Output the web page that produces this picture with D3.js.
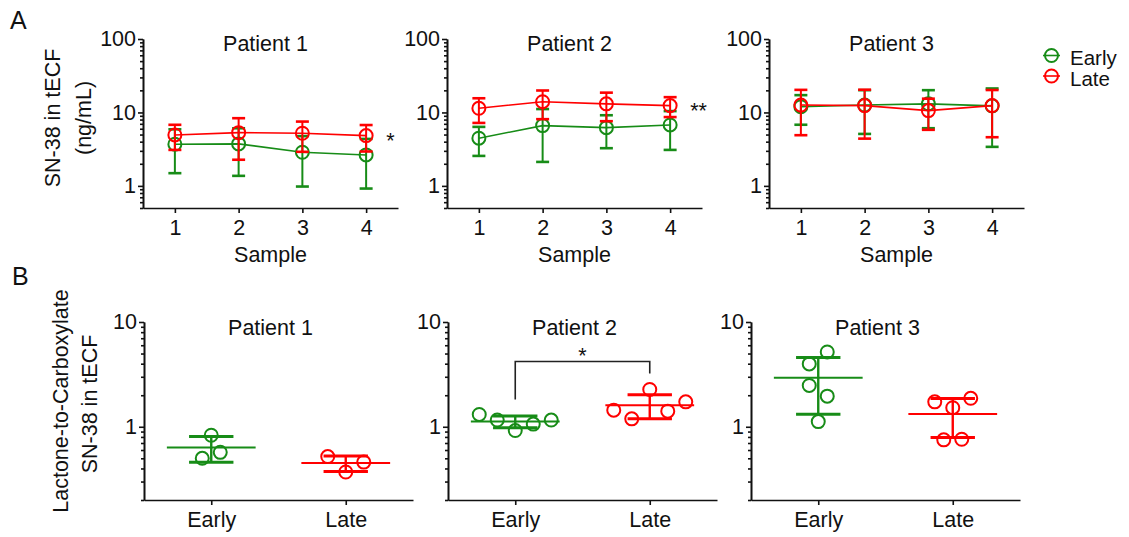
<!DOCTYPE html>
<html lang="en">
  <head>
    <meta charset="UTF-8" />
    <title>SN-38 in tECF</title>
    <script src="https://cdn.jsdelivr.net/npm/d3@7"></script>
    <style>
      body { margin: 0; background: #fff; }
      svg { display: block; }
    </style>
  </head>
  <body>
    <svg></svg>
    <script>
      // panel A: mean +/- SD per sample, log axis
      const samples = [1, 2, 3, 4];
      const patients = ["Patient 1", "Patient 2", "Patient 3"];
      const earlyMean = [[3.69, 3.73, 2.87, 2.64], [4.46, 6.62, 6.21, 6.76], [12.0, 12.6, 13.1, 12.3]];
      const earlySD = [[2.2, 2.36, 1.89, 1.72], [1.9, 4.5, 2.95, 3.67], [5.2, 7.5, 7.0, 8.9]];
      const lateMean = [[4.94, 5.31, 5.21, 4.84], [11.4, 14.0, 13.1, 12.4], [12.6, 12.4, 10.6, 12.4]];
      const lateSD = [[1.85, 3.04, 2.3, 1.9], [4.2, 5.9, 5.5, 3.75], [7.7, 8.0, 4.8, 7.8]];
      const starsA = ["*", "**", ""];

      // panel B: individual ratios
      const groups = ["Early", "Late"];
      const ratioEarly = [[0.50, 0.83, 0.57], [1.31, 1.16, 0.92, 1.06, 1.16], [3.98, 2.48, 1.12, 1.96, 5.18]];
      const ratioLate = [[0.52, 0.37, 0.46], [1.44, 1.19, 2.27, 1.41, 1.73], [1.73, 0.75, 1.52, 0.76, 1.87]];
      const starsB = ["", "*", ""];

      const ff = "'Liberation Sans', Arial, sans-serif";
      const fs = 21.5;
      const green = "#178c17";
      const red = "#ff0000";
      const r = 6.5;

      const svg = d3.select("svg").attr("width", 1129).attr("height", 537)
        .attr("font-family", ff).attr("font-size", fs).attr("fill", "#111");

      function styleAxis(s) {
        s.attr("font-family", ff).attr("font-size", fs);
        s.selectAll("path, line").attr("stroke", "#111").attr("stroke-width", 1.6);
        s.selectAll("text").attr("fill", "#111");
      }

      function logAxis(g, y, x0) {
        const all = y.ticks();
        const major = all.filter(v => Math.abs(Math.log10(v) - Math.round(Math.log10(v))) < 1e-9);
        const minor = all.filter(v => !major.includes(v));
        g.append("g").attr("transform", `translate(${x0},0)`)
          .call(d3.axisLeft(y).tickValues(minor).tickSize(3).tickFormat("").tickSizeOuter(0))
          .call(styleAxis);
        g.append("g").attr("transform", `translate(${x0},0)`)
          .call(d3.axisLeft(y).tickValues(major).tickSize(5).tickPadding(2).tickFormat(d3.format("d")).tickSizeOuter(0))
          .call(styleAxis);
      }

      // ---------- A ----------
      const aLeft = [143, 447, 769], aW = 255, aTop = 39, aBot = 208;
      patients.forEach((p, i) => {
        const g = svg.append("g");
        const x = d3.scaleLinear().domain([0.5, 4.5]).range([aLeft[i], aLeft[i] + aW]);
        const y = d3.scaleLog().domain([0.5, 100]).range([aBot, aTop]);
        logAxis(g, y, aLeft[i]);
        g.append("g").attr("transform", `translate(0,${aBot})`)
          .call(d3.axisBottom(x).tickValues(samples).tickSize(5).tickPadding(7).tickSizeOuter(0).tickFormat(d3.format("d")))
          .call(styleAxis);
        g.append("text").attr("x", (aLeft[i] + aLeft[i] + aW) / 2 - 5).attr("y", 51)
          .attr("text-anchor", "middle").text(p);
        g.append("text").attr("x", (aLeft[i] + aLeft[i] + aW) / 2).attr("y", 262)
          .attr("text-anchor", "middle").text("Sample");

        const series = [
          { mean: earlyMean[i], sd: earlySD[i], color: green },
          { mean: lateMean[i], sd: lateSD[i], color: red }
        ];
        series.forEach(s => {
          const sg = g.append("g").attr("stroke", s.color).attr("fill", "none");
          s.mean.forEach((m, j) => {
            const cx = x(samples[j]);
            const hi = y(m + s.sd[j]), lo = y(m - s.sd[j]);
            sg.append("line").attr("x1", cx).attr("x2", cx).attr("y1", hi).attr("y2", lo).attr("stroke-width", 2);
            [hi, lo].forEach(yy => sg.append("line").attr("x1", cx - 6.5).attr("x2", cx + 6.5)
              .attr("y1", yy).attr("y2", yy).attr("stroke-width", 2.6));
          });
          sg.append("path")
            .attr("d", d3.line().x((d, j) => x(samples[j])).y(d => y(d))(s.mean))
            .attr("stroke-width", 1.6);
          sg.selectAll("circle").data(s.mean).join("circle")
            .attr("cx", (d, j) => x(samples[j])).attr("cy", d => y(d)).attr("r", r)
            .attr("stroke-width", 2);
        });
        if (starsA[i]) {
          g.append("text").attr("x", x(4) + 20).attr("y", y(lateMean[i][3]) + 12).text(starsA[i]);
        }
      });

      svg.append("text").attr("transform", "translate(60,118) rotate(-90)")
        .attr("text-anchor", "middle").text("SN-38 in tECF");
      svg.append("text").attr("transform", "translate(91,118) rotate(-90)")
        .attr("text-anchor", "middle").text("(ng/mL)");

      // legend
      const legend = svg.append("g");
      [["Early", green, 55.5, 64.5], ["Late", red, 76, 85.5]].forEach(([t, c, ly, ty]) => {
        legend.append("line").attr("x1", 1043).attr("x2", 1060).attr("y1", ly).attr("y2", ly)
          .attr("stroke", c).attr("stroke-width", 1.6);
        legend.append("circle").attr("cx", 1051.5).attr("cy", ly).attr("r", r)
          .attr("fill", "none").attr("stroke", c).attr("stroke-width", 2);
        legend.append("text").attr("x", 1070).attr("y", ty).attr("font-size", 20.5).text(t);
      });

      // ---------- B ----------
      const bLeft = [144, 448, 751], bW = 269, bTop = 322, bBot = 500;
      const dotGap = 18;

      function swarm(vals, y) {
        const idx = d3.range(vals.length).sort((a, b) => vals[b] - vals[a]);
        const gs = [];
        let cur = [idx[0]];
        for (let k = 1; k < idx.length; k++) {
          if (y(vals[idx[k]]) - y(vals[idx[k - 1]]) < 2 * r) cur.push(idx[k]);
          else { gs.push(cur); cur = [idx[k]]; }
        }
        gs.push(cur);
        const off = vals.map(() => 0);
        gs.forEach(gr => {
          gr.sort((a, b) => a - b);
          gr.forEach((p, k) => { off[p] = (k - (gr.length - 1) / 2) * dotGap; });
        });
        return off;
      }

      patients.forEach((p, i) => {
        const g = svg.append("g");
        const x = d3.scalePoint().domain(groups).range([bLeft[i], bLeft[i] + bW]).padding(0.5);
        const y = d3.scaleLog().domain([0.2, 10]).range([bBot, bTop]);
        logAxis(g, y, bLeft[i]);
        g.append("g").attr("transform", `translate(0,${bBot})`)
          .call(d3.axisBottom(x).tickSize(5).tickPadding(7).tickSizeOuter(0))
          .call(styleAxis);
        g.append("text").attr("x", (bLeft[i] + bLeft[i] + bW) / 2 - 8).attr("y", 335)
          .attr("text-anchor", "middle").text(p);

        const step = x.step();
        [[ratioEarly[i], green, "Early"], [ratioLate[i], red, "Late"]].forEach(([vals, c, grp]) => {
          const cx = x(grp);
          const m = d3.mean(vals), sd = d3.deviation(vals);
          const sg = g.append("g").attr("stroke", c).attr("fill", "none");
          sg.append("line").attr("x1", cx - step * 0.33).attr("x2", cx + step * 0.33)
            .attr("y1", y(m)).attr("y2", y(m)).attr("stroke-width", 2);
          sg.append("line").attr("x1", cx).attr("x2", cx)
            .attr("y1", y(m + sd)).attr("y2", y(m - sd)).attr("stroke-width", 2.4);
          [y(m + sd), y(m - sd)].forEach(yy => sg.append("line")
            .attr("x1", cx - step * 0.165).attr("x2", cx + step * 0.165)
            .attr("y1", yy).attr("y2", yy).attr("stroke-width", 3));
          const off = swarm(vals, y);
          sg.selectAll("circle").data(vals).join("circle")
            .attr("cx", (d, k) => cx + off[k]).attr("cy", d => y(d)).attr("r", r)
            .attr("stroke-width", 2);
        });

        if (starsB[i]) {
          const xl = x("Early"), xr = x("Late");
          const top = y(d3.max(ratioLate[i])) - 28;
          g.append("path")
            .attr("d", `M${xl},${y(d3.max(ratioEarly[i])) - 15}V${top}H${xr}V${y(d3.max(ratioLate[i])) - 16}`)
            .attr("fill", "none").attr("stroke", "#222").attr("stroke-width", 1.6);
          g.append("text").attr("x", (xl + xr) / 2).attr("y", top + 2).attr("text-anchor", "middle").text(starsB[i]);
        }
      });

      svg.append("text").attr("transform", "translate(68,401) rotate(-90)")
        .attr("text-anchor", "middle").text("Lactone-to-Carboxylate");
      svg.append("text").attr("transform", "translate(97,404) rotate(-90)")
        .attr("text-anchor", "middle").text("SN-38 in tECF");

      svg.append("text").attr("x", 10).attr("y", 29).attr("font-size", 25).text("A");
      svg.append("text").attr("x", 12).attr("y", 285).attr("font-size", 25).text("B");
    </script>
  </body>
</html>
